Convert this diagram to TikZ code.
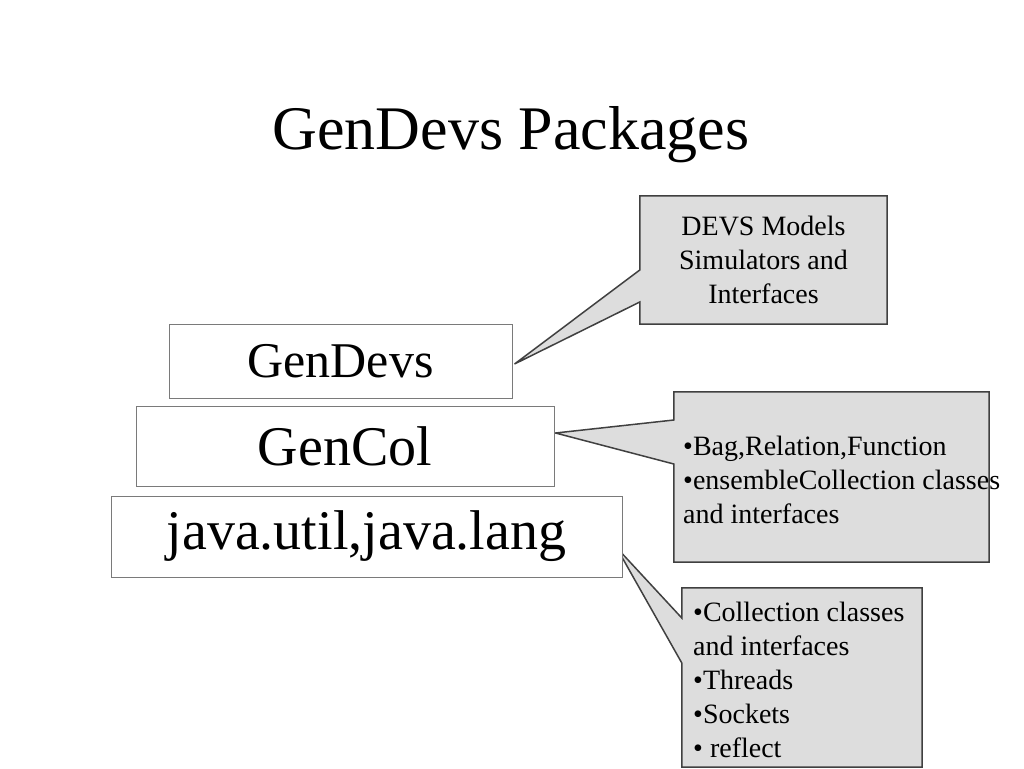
\documentclass[tikz,border=0pt]{standalone}
\usepackage{fontspec}
\setmainfont{Liberation Serif}
\usetikzlibrary{backgrounds,calc}
\definecolor{notefill}{HTML}{DDDDDD}
\definecolor{noteline}{HTML}{404040}
\definecolor{boxline}{HTML}{7A7A7A}
\tikzset{
x=1pt, y=-1pt,
layer/.style={draw=boxline, line width=1pt, fill=white, inner sep=0pt},
note/.style={draw=noteline, line width=1.5pt, fill=notefill, line join=miter},
notetext/.style={inner sep=0pt, font=\fontsize{28}{34}\selectfont},
}
\begin{document}
\begin{tikzpicture}

    \useasboundingbox (0,0) rectangle (1024,768);

    \node[inner sep=0pt, font=\fontsize{62}{70}\selectfont] (title) at (511,135) {GenDevs Packages};

    \node[layer, minimum width=343pt, minimum height=74pt, font=\fontsize{50}{60}\selectfont] (gendevs) at (340.5,361) {GenDevs};
    \node[layer, minimum width=418pt, minimum height=80pt, font=\fontsize{56}{66}\selectfont] (gencol) at (345,446) {GenCol};
    \node[layer, minimum width=511pt, minimum height=81pt, font=\fontsize{56}{66}\selectfont] (javalib) at (366.5,536.5) {java.util,java.lang};

    \node[inner sep=0pt, minimum width=247pt, minimum height=128pt] (devsnote) at (763.5,260) {};
    \node[inner sep=0pt, minimum width=315pt, minimum height=170pt] (colnote) at (831.5,477) {};
    \node[inner sep=0pt, minimum width=240pt, minimum height=179pt] (utilnote) at (802,677.5) {};

    \node[notetext, align=center] (devstext) at (devsnote.center) {DEVS Models\\Simulators and\\Interfaces};
    \node[notetext, align=left, anchor=west] (coltext) at (683,480) {•Bag,Relation,Function\\•ensembleCollection classes\\and interfaces};
    \node[notetext, align=left, anchor=west] (utiltext) at (693,680) {•Collection classes\\and interfaces\\•Threads\\•Sockets\\• reflect};

    \coordinate (devstip) at ($(gendevs.east)+(2,3)$);
    \coordinate (coltip) at ($(gencol.east)+(1,-13)$);
    \coordinate (utiltip) at ($(javalib.east)+(-6,11)$);

    \begin{scope}[on background layer]
    \draw[note] (devsnote.north west) -- (devsnote.north east) -- (devsnote.south east) -- (devsnote.south west)
        -- (devsnote.west |- 0,302) -- (devstip) -- (devsnote.west |- 0,270) -- cycle;
    \draw[note] (colnote.north west) -- (colnote.north east) -- (colnote.south east) -- (colnote.south west)
        -- (colnote.west |- 0,464) -- (coltip) -- (colnote.west |- 0,420) -- cycle;
    \draw[note] (utilnote.north west) -- (utilnote.north east) -- (utilnote.south east) -- (utilnote.south west)
        -- (utilnote.west |- 0,663) -- (utiltip) -- (utilnote.west |- 0,618) -- cycle;
    \end{scope}

\end{tikzpicture}
\end{document}
